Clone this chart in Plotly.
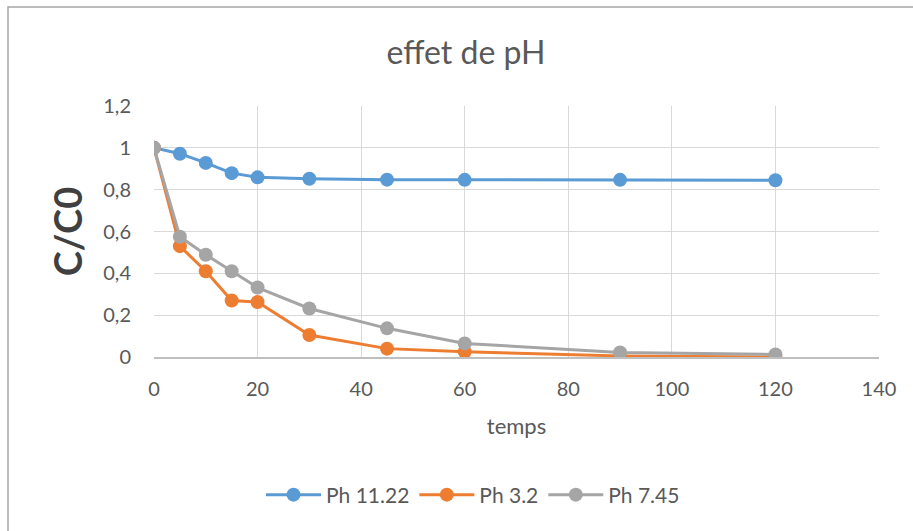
import plotly.graph_objects as go

temps = [0, 5, 10, 15, 20, 30, 45, 60, 90, 120]
ph_11_22 = [1.0, 0.972, 0.928, 0.879, 0.859, 0.852, 0.848, 0.847, 0.847, 0.845]
ph_3_2 = [1.0, 0.53, 0.41, 0.27, 0.263, 0.105, 0.04, 0.025, 0.005, 0.0]
ph_7_45 = [1.0, 0.575, 0.489, 0.41, 0.332, 0.232, 0.137, 0.065, 0.022, 0.012]

series_names = ["Ph 11.22", "Ph 3.2", "Ph 7.45"]
colors = ["#5B9BD5", "#ED7D31", "#A5A5A5"]

FONT = "Lato"
W, H = 913, 531
ML, MR, MT, MB = 154, 34, 106, 174
PW = W - ML - MR
PH = H - MT - MB

fig = go.Figure()
for name, vals, col in zip(series_names, [ph_11_22, ph_3_2, ph_7_45], colors):
    fig.add_trace(go.Scatter(
        x=temps, y=vals, name=name, mode="lines+markers",
        line=dict(color=col, width=3),
        marker=dict(color=col, size=14),
    ))

def px_x(p):
    return (p - ML) / PW

def px_y(p):
    return (H - MB - p) / PH

fig.add_shape(type="rect", xref="paper", yref="paper",
              x0=px_x(8), x1=px_x(930), y0=px_y(550), y1=px_y(7),
              line=dict(color="#A6A6A6", width=1.5), fillcolor="rgba(0,0,0,0)", layer="below")

fig.update_layout(
    width=W, height=H,
    margin=dict(l=ML, r=MR, t=MT, b=MB),
    paper_bgcolor="white", plot_bgcolor="white",
    separators=", ",
    font=dict(family=FONT, color="#595959", size=20),
    title=dict(text="effet de pH", x=466 / W, xanchor="center", xref="container",
               y=1 - 53 / H, yanchor="middle", yref="container",
               font=dict(family=FONT, size=32, color="#595959")),
    xaxis=dict(range=[0, 140], dtick=20, tick0=0, showgrid=True, gridcolor="#D9D9D9", gridwidth=1,
               zeroline=False, showline=True, linecolor="#BFBFBF", linewidth=1.5,
               ticks="", ticklabelstandoff=13, tickfont=dict(size=20, color="#595959"),
               title=dict(text="temps", font=dict(size=22, color="#595959"), standoff=20)),
    yaxis=dict(range=[0, 1.2], dtick=0.2, tick0=0, showgrid=True, gridcolor="#D9D9D9", gridwidth=1,
               zeroline=False, showline=False, ticks="", ticklabelstandoff=22,
               tickfont=dict(size=20, color="#595959"),
               title=dict(text="<b>C/C0</b>", font=dict(size=38, color="#404040"), standoff=8)),
    legend=dict(orientation="h", x=473 / W, xanchor="center", xref="container",
                y=1 - 495 / H, yanchor="middle", yref="container",
                font=dict(size=21, color="#595959"), itemwidth=55),
    showlegend=True,
)

fig.write_html("out.html")
